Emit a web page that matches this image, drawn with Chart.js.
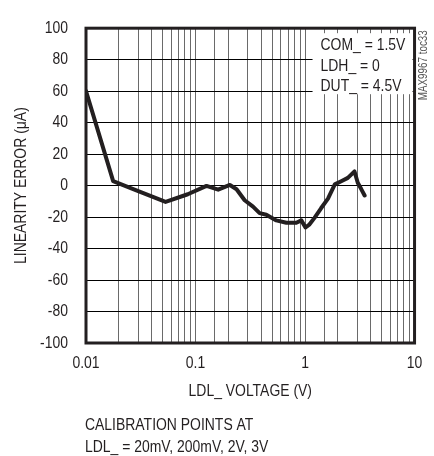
<!DOCTYPE html>
<html>
<head>
<meta charset="utf-8">
<script src="https://cdn.jsdelivr.net/npm/chart.js@4/dist/chart.umd.min.js"></script>
<style>
  body { margin: 0; background: #fff; }
  #wrap { width: 434px; height: 456px; position: relative; }
</style>
</head>
<body>
<div id="wrap"><canvas id="chart" width="434" height="456"></canvas></div>
<script>
// data (LDL_ voltage in V, linearity error in uA)
const ldlVoltage = [0.01, 0.0177, 0.03, 0.0533, 0.085, 0.126, 0.161, 0.206, 0.237, 0.281,
  0.335, 0.385, 0.443, 0.547, 0.676, 0.833, 0.925, 1.01, 1.10, 1.22,
  1.40, 1.62, 1.87, 2.14, 2.46, 2.83, 3.03, 3.26, 3.50];
const linearityError = [60, 2.8, -3.5, -10.4, -5.5, -0.2, -2.6, 0.4, -2.3, -9.3,
  -13.4, -17.5, -18.5, -22.1, -23.6, -23.6, -22.1, -26.6, -24.6, -20.5,
  -14.4, -8.3, 0.8, 2.8, 4.9, 9, 1.8, -2.2, -6.3];

const xTickValues = [0.01, 0.1, 1, 10];
const xTickLabels = ['0.01', '0.1', '1', '10'];
const yTickValues = [-100, -80, -60, -40, -20, 0, 20, 40, 60, 80, 100];
const yTickLabels = ['-100', '-80', '-60', '-40', '-20', '0', '20', '40', '60', '80', '100'];

const conditionLines = ['COM_ = 1.5V', 'LDH_ = 0', 'DUT_ = 4.5V'];
const noteLines = ['CALIBRATION POINTS AT', 'LDL_ = 20mV, 200mV, 2V, 3V'];
const figureId = 'MAX9967 toc33';

const FONT = "'Liberation Sans', Arial, sans-serif";
const INK = '#231f20';

const extras = {
  id: 'extras',
  // no narrow font installed: squeeze every text draw horizontally
  beforeInit(chart) {
    const ctx = chart.ctx;
    const fill = ctx.fillText.bind(ctx);
    ctx.fillText = (t, x, y) => {
      ctx.save();
      ctx.translate(x, y);
      ctx.scale(0.82, 1);
      fill(t, 0, 0);
      ctx.restore();
    };
  },
  // white condition box, frame and notes
  afterDatasetsDraw(chart) {
    const ctx = chart.ctx;
    const a = chart.chartArea;
    ctx.save();
    ctx.fillStyle = '#fff';
    ctx.fillRect(a.right - 102, a.top + 5, 100, 61);
    ctx.fillStyle = INK;
    ctx.font = '17px ' + FONT;
    ctx.textAlign = 'left';
    ctx.textBaseline = 'alphabetic';
    conditionLines.forEach((t, i) => ctx.fillText(t, a.right - 94, a.top + 22 + i * 20.5));
    // frame
    ctx.strokeStyle = INK;
    ctx.lineWidth = 3;
    ctx.strokeRect(a.left, a.top, a.right - a.left, a.bottom - a.top);
    // figure id, rotated
    ctx.save();
    ctx.translate(a.right + 9, a.top + 37);
    ctx.rotate(-Math.PI / 2);
    ctx.font = '12px ' + FONT;
    ctx.fillStyle = '#555';
    ctx.textAlign = 'center';
    ctx.textBaseline = 'middle';
    ctx.fillText(figureId, 0, 0);
    ctx.restore();
    // calibration note
    ctx.font = '17px ' + FONT;
    ctx.fillStyle = INK;
    ctx.textAlign = 'left';
    noteLines.forEach((t, i) => ctx.fillText(t, 85, 430 + i * 22));
    ctx.restore();
  }
};

new Chart(document.getElementById('chart'), {
  type: 'line',
  data: {
    datasets: [{
      data: ldlVoltage.map((v, i) => ({ x: v, y: linearityError[i] })),
      borderColor: INK,
      borderWidth: 4,
      borderJoinStyle: 'round',
      borderCapStyle: 'round',
      pointRadius: 0,
      tension: 0,
      fill: false
    }]
  },
  options: {
    responsive: false,
    animation: false,
    layout: { padding: { top: 14, right: 19, bottom: 0, left: 0 } },
    plugins: { legend: { display: false }, tooltip: { enabled: false } },
    scales: {
      x: {
        type: 'logarithmic',
        min: 0.01,
        max: 10,
        afterFit: s => { s.height = 113; },
        grid: { color: '#6a6a6a', lineWidth: 1, drawTicks: false },
        border: { display: false },
        ticks: {
          autoSkip: false,
          maxRotation: 0,
          padding: 10,
          color: INK,
          font: { family: FONT, size: 17 },
          callback: v => {
            const i = xTickValues.findIndex(t => Math.abs(t - v) / t < 1e-6);
            return i >= 0 ? xTickLabels[i] : '';
          }
        },
        title: {
          display: true,
          text: 'LDL_ VOLTAGE (V)',
          color: INK,
          font: { family: FONT, size: 17 },
          padding: { top: 0, bottom: 54 }
        }
      },
      y: {
        min: -100,
        max: 100,
        afterFit: s => { s.width = 86; },
        afterBuildTicks: s => { s.ticks = yTickValues.map(v => ({ value: v })); },
        grid: { color: '#000', lineWidth: 1, drawTicks: false },
        border: { display: false },
        ticks: {
          padding: 18,
          color: INK,
          font: { family: FONT, size: 17 },
          callback: v => yTickLabels[yTickValues.indexOf(v)]
        },
        title: {
          display: true,
          text: 'LINEARITY ERROR (μA)',
          color: INK,
          font: { family: FONT, size: 17 },
          padding: { top: 11, bottom: 0 }
        }
      }
    }
  },
  plugins: [extras]
});
</script>
</body>
</html>
